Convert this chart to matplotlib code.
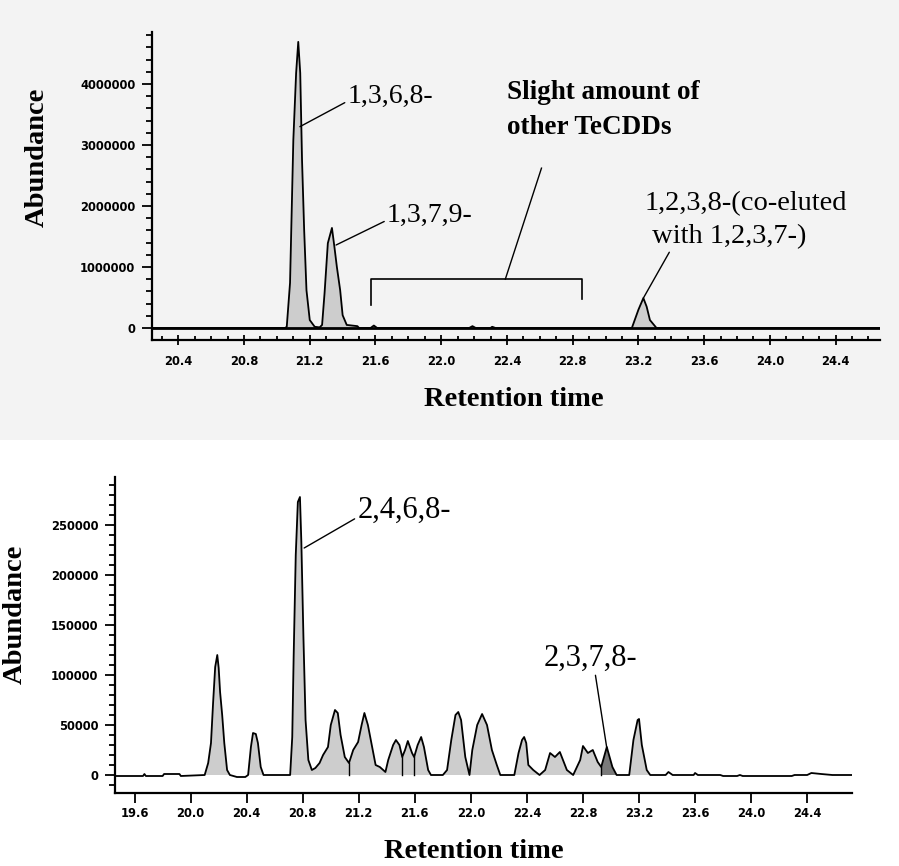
import numpy as np
import matplotlib
matplotlib.use("Agg")
import matplotlib.pyplot as plt
from matplotlib.patches import Rectangle
from matplotlib.ticker import MultipleLocator, FuncFormatter

# ---- top chromatogram (1,3,6,8- / 1,3,7,9- sample) ----
top_time = [20.24, 21.05, 21.06, 21.08, 21.10, 21.117, 21.13, 21.142, 21.153,
            21.166, 21.18, 21.20, 21.23, 21.26, 21.275, 21.29, 21.31, 21.335,
            21.35, 21.365, 21.385, 21.40, 21.425, 21.49, 21.50, 21.57, 21.59,
            21.61, 22.17, 22.19, 22.21, 22.30, 22.31, 22.33, 23.16, 23.20,
            23.23, 23.25, 23.27, 23.31, 24.67]
top_abund = [0, 0, 0.02e6, 0.74e6, 3.08e6, 4.18e6, 4.69e6, 4.18e6, 2.75e6,
             1.60e6, 0.62e6, 0.13e6, 0.02e6, 0.01e6, 0.05e6, 0.57e6, 1.39e6,
             1.64e6, 1.33e6, 1.00e6, 0.62e6, 0.21e6, 0.05e6, 0.03e6, 0, 0,
             0.04e6, 0, 0, 0.03e6, 0, 0, 0.02e6, 0, 0, 0.30e6, 0.49e6, 0.35e6,
             0.13e6, 0, 0]

# ---- bottom chromatogram (2,4,6,8- sample) ----
bot_time = [19.46, 19.66, 19.67, 19.68, 19.80, 19.81, 19.92, 19.93, 20.10,
            20.125, 20.145, 20.16, 20.175, 20.19, 20.20, 20.21, 20.225, 20.24,
            20.26, 20.28, 20.33, 20.39, 20.41, 20.43, 20.445, 20.465, 20.48,
            20.50, 20.52, 20.71, 20.725, 20.735, 20.75, 20.765, 20.78, 20.79,
            20.805, 20.82, 20.84, 20.865, 20.89, 20.92, 20.945, 20.98, 21.00,
            21.03, 21.05, 21.07, 21.10, 21.13, 21.16, 21.195, 21.22, 21.24,
            21.265, 21.29, 21.32, 21.35, 21.39, 21.41, 21.445, 21.465, 21.49,
            21.51, 21.53, 21.55, 21.58, 21.595, 21.62, 21.645, 21.665, 21.695,
            21.715, 21.80, 21.83, 21.86, 21.89, 21.91, 21.93, 21.96, 21.99,
            22.01, 22.045, 22.08, 22.115, 22.15, 22.185, 22.21, 22.31, 22.34,
            22.365, 22.38, 22.395, 22.41, 22.445, 22.49, 22.53, 22.565, 22.60,
            22.635, 22.685, 22.73, 22.78, 22.80, 22.835, 22.87, 22.905, 22.93,
            22.97, 23.01, 23.04, 23.13, 23.16, 23.19, 23.20, 23.22, 23.255,
            23.28, 23.39, 23.41, 23.44, 23.59, 23.60, 23.62, 23.78, 23.80,
            23.90, 23.92, 23.94, 24.29, 24.31, 24.40, 24.43, 24.50, 24.58,
            24.72]
bot_abund = [-1000, -1000, 1000, -1000, -1000, 1000, 1000, -1000, 0,
             12000, 32000, 72000, 108000, 120000, 107000, 83000, 60000, 32000,
             5000, 0, -2000, -2000, 0, 28000, 42000, 41000, 32000,
             8000, 0, 0, 38000, 118000, 220000, 273000, 278000, 233000,
             137000, 55000, 15000, 5000, 7000, 12000, 20000, 28000, 50000,
             65000, 62000, 40000, 18000, 12000, 25000, 33000, 50000, 62000,
             50000, 32000, 10000, 8000, 3000, 15000, 30000, 35000, 30000,
             18000, 25000, 34000, 22000, 18000, 30000, 38000, 28000, 5000,
             0, 0, 5000, 35000, 60000, 63000, 55000, 18000, 0,
             25000, 50000, 61000, 50000, 25000, 10000, 0, 0, 22000,
             35000, 38000, 32000, 10000, 5000, 0, 5000, 22000, 18000,
             23000, 5000, 0, 15000, 29000, 22000, 25000, 13000, 8000,
             28000, 8000, 0, 0, 35000, 55000, 56000, 30000, 5000,
             0, 0, 3000, 0, 0, 2000, 0, 0, -1000,
             -1000, 0, -1000, -1000, 0, 0, 2000, 1000, 0,
             0]
bot_drops = [21.13, 21.51, 21.595, 21.99, 22.93, 23.04]
bot_dark = (22.93, 23.04)   # 2,3,7,8- peak shaded darker

top_xticks = [20.4, 20.8, 21.2, 21.6, 22.0, 22.4, 22.8, 23.2, 23.6, 24.0, 24.4]
top_yticks = [0, 1000000, 2000000, 3000000, 4000000]
bot_xticks = [19.6, 20.0, 20.4, 20.8, 21.2, 21.6, 22.0, 22.4, 22.8, 23.2,
              23.6, 24.0, 24.4]
bot_yticks = [0, 50000, 100000, 150000, 200000, 250000]

serif = ["Liberation Serif", "DejaVu Serif"]
W, H = 899, 866

fig = plt.figure(figsize=(W / 100, H / 100), dpi=100)
fig.patches.append(Rectangle((0, 1 - 440 / H), 1, 440 / H,
                             transform=fig.transFigure,
                             facecolor="#f3f3f3", edgecolor="none", zorder=-10))

fill_c = "#cdcdcd"


def style_axes(ax, xt, yt, xlim, ylim, yminor, xminor):
    ax.set_xlim(*xlim)
    ax.set_ylim(*ylim)
    ax.spines["top"].set_visible(False)
    ax.spines["right"].set_visible(False)
    ax.spines["left"].set_linewidth(1.6)
    ax.spines["bottom"].set_linewidth(1.6)
    ax.set_xticks(xt)
    ax.set_yticks(yt)
    ax.xaxis.set_major_formatter(FuncFormatter(lambda v, p: f"{v:.1f}"))
    ax.yaxis.set_major_formatter(FuncFormatter(lambda v, p: f"{int(v)}"))
    ax.yaxis.set_minor_locator(MultipleLocator(yminor))
    if xminor:
        ax.xaxis.set_minor_locator(MultipleLocator(xminor))
    ax.tick_params(axis="y", which="major", direction="out", length=7,
                   width=1.3, pad=5)
    ax.tick_params(axis="y", which="minor", direction="out", length=4,
                   width=1.3)
    for lab in ax.get_xticklabels() + ax.get_yticklabels():
        lab.set_fontfamily("DejaVu Sans")
        lab.set_fontsize(8.3)
        lab.set_fontweight("bold")


def leader(ax, text, xy, xytext, rel, size=20, **kw):
    ax.annotate(text, xy=xy, xytext=xytext, fontfamily=serif, fontsize=size,
                va="center", ha="left",
                arrowprops=dict(arrowstyle="-", color="black", lw=1,
                                shrinkA=0, shrinkB=0, relpos=rel), **kw)


# ---------------- top panel ----------------
ax1 = fig.add_axes([152 / W, 1 - 340 / H, (880 - 152) / W, (340 - 32) / H])
ax1.patch.set_alpha(0)
t1 = np.array(top_time)
a1 = np.array(top_abund)
ax1.fill_between(t1, a1, 0, where=a1 > 0, facecolor=fill_c, interpolate=True)
ax1.plot(t1, a1, color="black", lw=1.3)
ax1.axhline(0, color="black", lw=2)
style_axes(ax1, top_xticks, top_yticks, (20.24, 24.67), (-197000, 4852000),
           200000, 0.1)
ax1.tick_params(axis="x", which="major", direction="inout", length=7,
                width=1.3, pad=7)
ax1.tick_params(axis="x", which="minor", direction="in", length=3, width=1.3)

fig.text(37 / W, 1 - 157 / H, "Abundance", rotation=90, fontfamily=serif,
         fontsize=20.5, fontweight="bold", ha="center", va="center")
fig.text(514 / W, 1 - 399 / H, "Retention time", fontfamily=serif,
         fontsize=20.5, fontweight="bold", ha="center", va="center")

leader(ax1, "1,3,6,8-", (21.14, 3.3e6), (21.43, 3.8e6), (0, 0.3))
leader(ax1, "1,3,7,9-", (21.36, 1.36e6), (21.67, 1.85e6), (0, 0.3))
# bracket over the minor TeCDD peaks
ax1.plot([21.573, 21.573, 22.856, 22.856], [0.38e6, 0.80e6, 0.80e6, 0.475e6],
         color="black", lw=1.2)
ax1.plot([22.39, 22.61], [0.80e6, 2.62e6], color="black", lw=1)
ax1.text(22.40, 3.57e6, "Slight amount of\nother TeCDDs", fontfamily=serif,
         fontsize=19.5, fontweight="bold", va="center", ha="left",
         linespacing=1.55)
ax1.annotate("1,2,3,8-(co-eluted\n with 1,2,3,7-)", xy=(23.23, 0.49e6),
             xytext=(23.24, 1.77e6), fontfamily=serif, fontsize=20.5,
             va="center", ha="left", linespacing=1.45,
             arrowprops=dict(arrowstyle="-", color="black", lw=1,
                             shrinkA=0, shrinkB=0, relpos=(0.12, -0.05)))

# ---------------- bottom panel ----------------
ax2 = fig.add_axes([115 / W, 1 - 793 / H, (852 - 115) / W, (793 - 477) / H])
t2 = np.array(bot_time)
a2 = np.array(bot_abund)
peak_zone = (t2 > 20.0) & (t2 < 23.35)
ax2.fill_between(t2, a2, 0, where=peak_zone & (a2 > 0), facecolor=fill_c,
                 interpolate=True)
dark = (t2 >= bot_dark[0]) & (t2 <= bot_dark[1])
ax2.fill_between(t2, a2, 0, where=dark, facecolor="#7a7a7a")
for d in bot_drops:
    ax2.plot([d, d], [0, np.interp(d, t2, a2)], color="black", lw=1)
ax2.plot(t2, a2, color="black", lw=1.3)
style_axes(ax2, bot_xticks, bot_yticks, (19.46, 24.72), (-18000, 298000),
           10000, None)
ax2.tick_params(axis="x", which="major", direction="out", length=7,
                width=1.3, pad=3)

fig.text(15 / W, 1 - 614 / H, "Abundance", rotation=90, fontfamily=serif,
         fontsize=20.5, fontweight="bold", ha="center", va="center")
fig.text(474 / W, 1 - 851 / H, "Retention time", fontfamily=serif,
         fontsize=20.5, fontweight="bold", ha="center", va="center")

leader(ax2, "2,4,6,8-", (20.81, 227000), (21.19, 265000), (0, 0.25), size=22)
leader(ax2, "2,3,7,8-", (22.97, 27000), (22.52, 117000), (0.55, -0.05),
       size=22)

fig.savefig("out.png", dpi=100)
